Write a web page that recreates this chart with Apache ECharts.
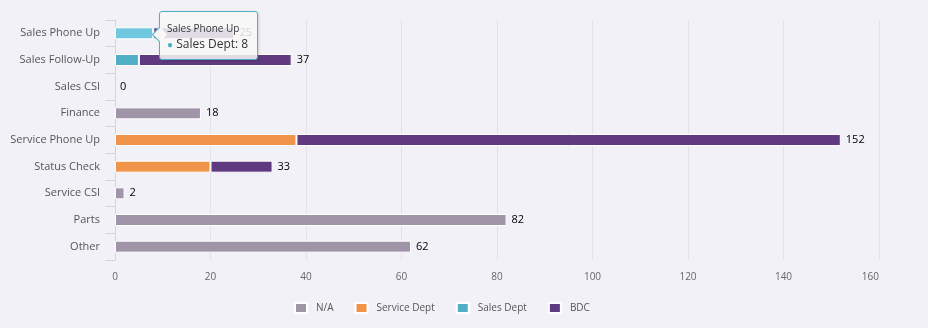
<!DOCTYPE html>
<html><head><meta charset="utf-8">
<script src="https://cdn.jsdelivr.net/npm/echarts@6/dist/echarts.min.js"></script>
<style>html,body{margin:0;padding:0;background:#f3f1f8;}#c{width:928px;height:328px;}</style>
</head><body><div id="c"></div>
<script>
var categories = ['Sales Phone Up','Sales Follow-Up','Sales CSI','Finance','Service Phone Up','Status Check','Service CSI','Parts','Other'];
var naValues      = [null, null, null, 18, null, null, 2, 82, 62];
var serviceValues = [null, null, null, null, 38, 20, null, null, null];
var salesValues   = [8, 5, null, null, null, null, null, null, null];
var bdcValues     = [17, 32, null, null, 114, 13, null, null, null];
var xTicks = [0, 20, 40, 60, 80, 100, 120, 140, 160];
var seriesNames = ['N/A','Service Dept','Sales Dept','BDC'];
var colors = ['#a094a8','#f0944a','#4fafc6','#5f3a80'];
var hoverColors = ['#b2a7ba','#f7a664','#6fc8e0','#744d96'];

var allValues = [naValues, serviceValues, salesValues, bdcValues];
var totals = categories.map(function(_, i){
  return allValues.reduce(function(s, arr){ return s + (arr[i] || 0); }, 0);
});

var chart = echarts.init(document.getElementById('c'));
var series = allValues.map(function(vals, k){
  return {
    name: seriesNames[k], type: 'bar', stack: 'all', data: vals,
    barWidth: 12,
    itemStyle: { color: colors[k], borderColor: '#ffffff', borderWidth: 1 },
    emphasis: { itemStyle: { color: hoverColors[k], borderColor: '#ffffff', borderWidth: 1 } }
  };
});
series.push({
  name: 'total', type: 'bar', data: totals, barWidth: 12, barGap: '-100%', silent: true,
  itemStyle: { color: 'rgba(0,0,0,0)' },
  label: { show: true, position: 'right', distance: 5, color: '#000', fontSize: 11,
    fontFamily: 'Open Sans', formatter: function(p){ return p.value; } },
  tooltip: { show: false }, z: 1
});

chart.setOption({
  animation: false,
  backgroundColor: '#f3f1f8',
  color: colors,
  grid: { left: 115, right: 49, top: 20, bottom: 68, containLabel: false },
  xAxis: {
    type: 'value', min: xTicks[0], max: xTicks[xTicks.length-1], interval: 20,
    axisLine: { show: false }, axisTick: { show: false },
    axisLabel: { color: '#666', fontSize: 10, fontFamily: 'Open Sans', margin: 12, alignMaxLabel: 'right' },
    splitLine: { show: true, lineStyle: { color: '#e4e2e8', width: 1 } }
  },
  yAxis: {
    type: 'category', data: categories, inverse: true,
    axisLine: { show: true, lineStyle: { color: '#ccd6eb', width: 1 } },
    axisTick: { show: true, length: 10, lineStyle: { color: '#ccd6eb' } },
    axisLabel: { color: '#555', fontSize: 11, fontFamily: 'Open Sans', margin: 15 },
    splitLine: { show: false }
  },
  legend: {
    data: seriesNames, left: 294, top: 302, padding: 0, itemWidth: 12, itemHeight: 10, itemGap: 21,
    icon: 'rect',
    textStyle: { color: '#555', fontSize: 10, fontFamily: 'Open Sans', padding: [0,0,0,4] }
  },
  tooltip: {
    trigger: 'item',
    position: function(){ return [159, 11]; },
    backgroundColor: 'rgba(248,248,248,0.85)', borderColor: '#4fafc6', borderWidth: 1,
    padding: [9, 9, 6, 7],
    textStyle: { fontFamily: 'Open Sans', fontSize: 12, color: '#333' },
    extraCssText: 'border-radius:3px;box-shadow:1px 1px 3px rgba(0,0,0,0.15);',
    formatter: function(p){
      return '<div style="position:absolute;left:-6px;top:17px;width:10px;height:10px;background:rgb(248,248,248);' +
        'border-left:1px solid #4fafc6;border-bottom:1px solid #4fafc6;transform:rotate(45deg);"></div>' +
        '<div style="font-size:10px;line-height:14px;color:#333">' + p.name + '</div>' +
        '<div style="font-size:12px;line-height:17px;color:#333"><span style="color:' + p.color + ';font-size:10px">\u25CF</span> ' +
        p.seriesName + ': ' + p.value + '</div>';
    }
  },
  series: series
});
chart.dispatchAction({ type: 'highlight', seriesIndex: 2, dataIndex: 0 });
chart.dispatchAction({ type: 'showTip', seriesIndex: 2, dataIndex: 0 });
</script>
</body></html>
